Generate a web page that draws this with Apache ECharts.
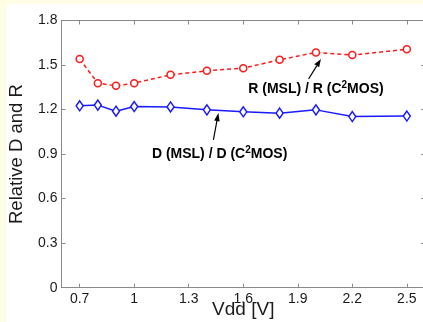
<!DOCTYPE html>
<html>
<head>
<meta charset="utf-8">
<script src="https://cdn.jsdelivr.net/npm/echarts@6/dist/echarts.min.js"></script>
<style>
html,body{margin:0;padding:0;background:#FFFDE6;}
#c{width:423px;height:322px;}
</style>
</head>
<body>
<div id="c"></div>
<script>
const xVals = [0.7, 0.8, 0.9, 1.0, 1.2, 1.4, 1.6, 1.8, 2.0, 2.2, 2.5];
const rRatio = [1.540, 1.378, 1.360, 1.378, 1.434, 1.461, 1.479, 1.535, 1.585, 1.567, 1.607];
const dRatio = [1.225, 1.230, 1.189, 1.220, 1.218, 1.198, 1.185, 1.176, 1.198, 1.153, 1.156];
const xTicks = [0.7, 1, 1.3, 1.6, 1.9, 2.2, 2.5];
const yTicks = [0, 0.3, 0.6, 0.9, 1.2, 1.5, 1.8];
const xTitle = 'Vdd [V]';
const yTitle = 'Relative D and R';

const chart = echarts.init(document.getElementById('c'), null, {renderer: 'canvas'});
const axisColor = '#8a8a8a';
const txt = '#1a1a1a';
const font = 'Liberation Sans, Arial, sans-serif';

const option = {
  backgroundColor: 'transparent',
  animation: false,
  grid: {left: 61.5, right: -2, top: 20.5, bottom: 34.3, show: false, outerBoundsMode: 'none', containLabel: false},
  xAxis: [{
    type: 'value', min: 0.6, max: 2.6, position: 'bottom',
    axisLine: {show: true, onZero: false, lineStyle: {color: axisColor, width: 1}},
    axisTick: {show: true, inside: true, length: 4, customValues: xTicks, lineStyle: {color: axisColor}},
    axisLabel: {customValues: xTicks, margin: 4, fontSize: 14, color: txt, fontFamily: font},
    splitLine: {show: false},
    name: xTitle, nameLocation: 'middle', nameGap: 13, nameMoveOverlap: false,
    nameTextStyle: {fontSize: 19, color: txt, fontFamily: font}
  }, {
    type: 'value', min: 0.6, max: 2.6, position: 'top',
    axisLine: {show: true, onZero: false, lineStyle: {color: axisColor, width: 1}},
    axisTick: {show: true, inside: true, length: 4, customValues: xTicks, lineStyle: {color: axisColor}},
    axisLabel: {show: false},
    splitLine: {show: false}
  }],
  yAxis: [{
    type: 'value', min: 0, max: 1.8, interval: 0.3, position: 'left',
    axisLine: {show: true, onZero: false, lineStyle: {color: axisColor, width: 1}},
    axisTick: {show: true, inside: true, length: 4, lineStyle: {color: axisColor}},
    axisLabel: {margin: 4, fontSize: 14, color: txt, fontFamily: font},
    splitLine: {show: false},
    name: yTitle, nameLocation: 'middle', nameGap: 35, nameMoveOverlap: false,
    nameTextStyle: {fontSize: 18.5, color: txt, fontFamily: font}
  }, {
    type: 'value', min: 0, max: 1.8, interval: 0.3, position: 'right',
    axisLine: {show: true, onZero: false, lineStyle: {color: axisColor, width: 1}},
    axisTick: {show: true, inside: true, length: 4, lineStyle: {color: axisColor}},
    axisLabel: {show: false},
    splitLine: {show: false}
  }],
  series: [{
    name: 'R', type: 'line',
    data: xVals.map((x, i) => [x, rRatio[i]]),
    symbol: 'circle', symbolSize: 7,
    itemStyle: {color: '#fff', borderColor: '#ff1a1a', borderWidth: 1.5},
    lineStyle: {color: '#ff1a1a', width: 1.5, type: [4, 3]},
    z: 3
  }, {
    name: 'D', type: 'line',
    data: xVals.map((x, i) => [x, dRatio[i]]),
    symbol: 'diamond', symbolSize: [7, 10],
    itemStyle: {color: '#fff', borderColor: '#1a1aff', borderWidth: 1.5},
    lineStyle: {color: '#1a1aff', width: 1.5},
    z: 3
  }]
};
chart.setOption(option);

function arrow(x1, y1, x2, y2) {
  const ang = Math.atan2(y2 - y1, x2 - x1);
  const L = 8, W = 2.8;
  const bx = x2 - L * Math.cos(ang), by = y2 - L * Math.sin(ang);
  const px = -Math.sin(ang) * W, py = Math.cos(ang) * W;
  return [
    {type: 'line', shape: {x1: x1, y1: y1, x2: bx, y2: by}, style: {stroke: '#000', lineWidth: 1.2}, z: 10},
    {type: 'polygon', shape: {points: [[x2, y2], [bx + px, by + py], [bx - px, by - py]]}, style: {fill: '#000'}, z: 10}
  ];
}
const rich = {
  b: {fontSize: 14, fontWeight: 'bold', fontFamily: font, color: '#111'},
  s: {fontSize: 10, fontWeight: 'bold', fontFamily: font, color: '#111', verticalAlign: 'top', padding: [0, 0, 7, 0]}
};
const pR = chart.convertToPixel({gridIndex: 0}, [2.0, 1.585]);
const pD = chart.convertToPixel({gridIndex: 0}, [1.45, 1.195]);
const rText = chart.convertToPixel({gridIndex: 0}, [2.0, 1.34]);
const dText = chart.convertToPixel({gridIndex: 0}, [1.47, 0.9]);
chart.setOption({
  graphic: [
    {type: 'rect', shape: {x: 7, y: 4, width: 430, height: 330}, style: {fill: '#fff'}, z: -100, silent: true},
    ...arrow(pR[0] - 7.4, pR[1] + 26.6, pR[0] + 5, pR[1] + 6.6),
    ...arrow(pD[0] - 2.6, pD[1] + 29.5, pD[0] + 2.4, pD[1] + 2.8),
    {type: 'text', x: rText[0], y: rText[1], style: {text: '{b|R (MSL) / R (C}{s|2}{b|MOS)}', rich: rich, align: 'center', verticalAlign: 'middle'}, z: 10},
    {type: 'text', x: dText[0], y: dText[1], style: {text: '{b|D (MSL) / D (C}{s|2}{b|MOS)}', rich: rich, align: 'center', verticalAlign: 'middle'}, z: 10}
  ]
});
</script>
</body>
</html>
